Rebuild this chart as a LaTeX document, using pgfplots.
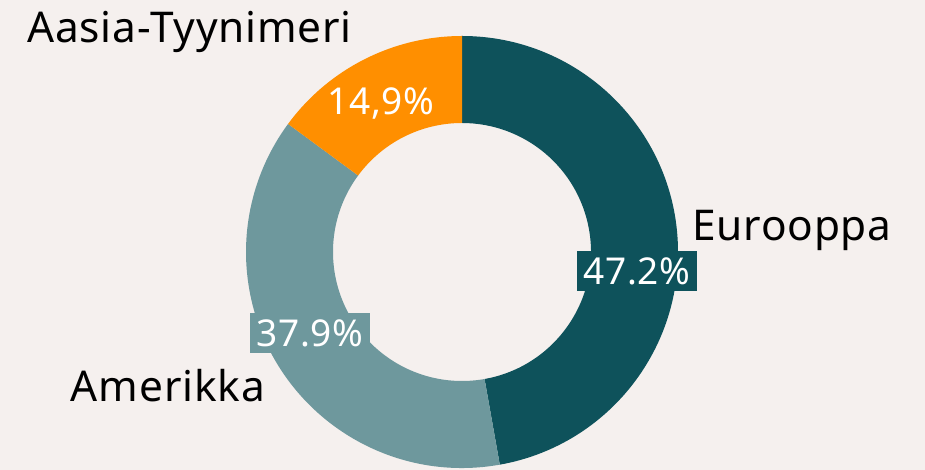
\documentclass[border=0pt]{standalone}
\usepackage{pgfplots}
\pgfplotsset{compat=1.18}
\usepackage{pgfplotstable}
\usepackage{fontspec}
\setmainfont{Noto Sans}[LetterSpace=2]
\definecolor{bgc}{HTML}{F5F0EE}
\definecolor{eur}{HTML}{0E525B}
\definecolor{ame}{HTML}{6E989D}
\definecolor{asi}{HTML}{FF8F00}

\pgfplotstableread{
region share
Eurooppa 47.2
Amerikka 37.9
Aasia 14.9
}\shares

\newcommand\donutslice[3]{%
  \fill[#1] (axis cs:462,218) ++(#2:108pt)
    arc[start angle=#2, end angle=#3, radius=108pt]
    -- ++(#3:-43.5pt)
    arc[start angle=#3, end angle=#2, radius=64.5pt] -- cycle;}

\begin{document}
\begin{tikzpicture}
\pgfplotstablegetelem{0}{share}\of\shares \pgfmathsetmacro\sa{\pgfplotsretval}
\pgfplotstablegetelem{1}{share}\of\shares \pgfmathsetmacro\sb{\pgfplotsretval}
\pgfplotstablegetelem{2}{share}\of\shares \pgfmathsetmacro\sc{\pgfplotsretval}
\pgfmathsetmacro\aA{90}
\pgfmathsetmacro\aB{\aA-3.6*\sa}
\pgfmathsetmacro\aC{\aB-3.6*\sb}
\pgfmathsetmacro\aD{\aC-3.6*\sc}
\begin{axis}[
  width=462.5pt, height=235pt, scale only axis,
  xmin=0, xmax=925, ymin=0, ymax=470,
  hide axis, clip=false,
]
\fill[bgc] (axis cs:0,0) rectangle (axis cs:925,470);
\coordinate (ll) at (axis cs:0,0);
\coordinate (ur) at (axis cs:925,470);
\donutslice{eur}{\aA}{\aB}
\donutslice{ame}{\aB}{\aC}
\donutslice{asi}{\aC}{\aD}

\node[anchor=base west, font=\fontsize{21.2}{25}\selectfont] at (axis cs:685,229) {Eurooppa};
\node[anchor=base, font=\fontsize{21.2}{25}\selectfont] at (axis cs:168,68) {Amerikka};
\node[anchor=base west, font=\fontsize{21.2}{25}\selectfont] at (axis cs:20,427) {Aasia-Tyynimeri};

\node[fill=eur, text=white, minimum width=60pt, minimum height=20pt, inner sep=0pt,
  font=\fontsize{18.5}{22}\selectfont] at (axis cs:637,199) {47.2\%};
\node[fill=ame, text=white, minimum width=60pt, minimum height=20pt, inner sep=0pt,
  font=\fontsize{18.5}{22}\selectfont] at (axis cs:310,137) {37.9\%};
\node[text=white, inner sep=0pt,
  font=\fontsize{18.5}{22}\selectfont] at (axis cs:381,366.5) {14,9\%};
\end{axis}
\pgfresetboundingbox
\path[use as bounding box] (ll) rectangle (ur);
\end{tikzpicture}
\end{document}
